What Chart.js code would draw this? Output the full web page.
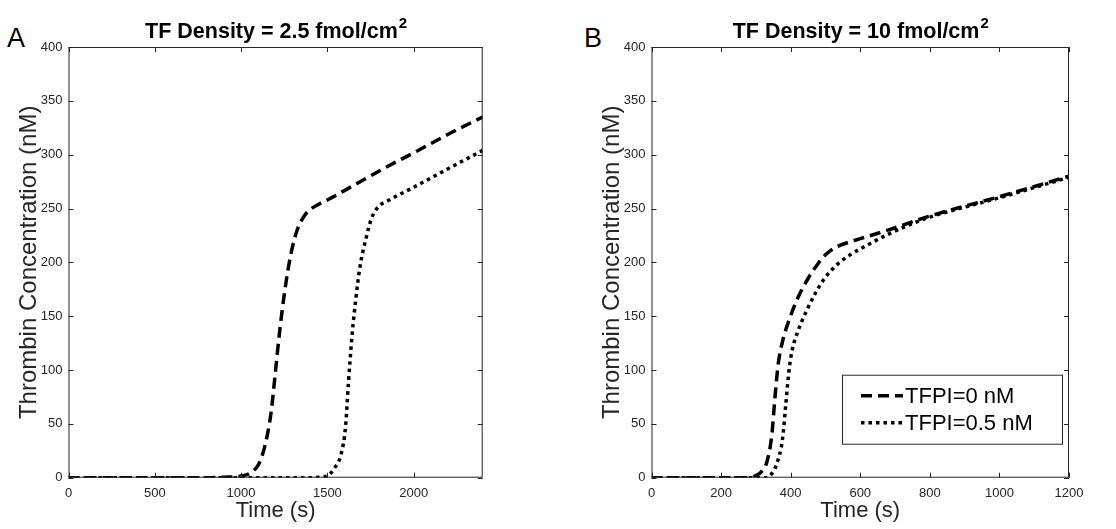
<!DOCTYPE html>
<html>
<head>
<meta charset="utf-8">
<script src="https://cdn.jsdelivr.net/npm/chart.js@4.4.1/dist/chart.umd.min.js"></script>
<style>
  html, body { margin: 0; padding: 0; background: #fff; }
  body { width: 1116px; height: 529px; position: relative; overflow: hidden; font-family: "Liberation Sans", Arial, sans-serif; }
  .panel { position: absolute; top: 0; height: 529px; }
  #wrapA { left: 0; width: 560px; }
  #wrapB { left: 583px; width: 533px; }
  .letter { position: absolute; font-size: 27px; color: #000; line-height: 1; }
</style>
</head>
<body>
<div class="letter" style="left:7px; top:25px;">A</div>
<div class="letter" style="left:584px; top:25px;">B</div>
<div class="panel" id="wrapA"><canvas id="chartA"></canvas></div>
<div class="panel" id="wrapB"><canvas id="chartB"></canvas></div>

<script>
// ---- data (time in s, thrombin in nM) ----
const timeA0 = [0, 400, 800, 900, 1000, 1050, 1100, 1125, 1150, 1175, 1200, 1225, 1250, 1275, 1300, 1325, 1350, 1375, 1400, 1450, 1513, 1680, 1848, 2015, 2200, 2400];
const concA0 = [0, 0, 0, 0.5, 1.5, 4, 12, 22, 38, 62, 100, 138, 170, 196, 216, 230, 239, 245, 249, 254, 259, 274, 289, 303, 319, 335];
const timeA05 = [0, 400, 800, 1200, 1400, 1450, 1496, 1546, 1580, 1605, 1622, 1644, 1664, 1689, 1722, 1756, 1798, 1848, 2015, 2200, 2400];
const concA05 = [0, 0, 0, 0, 0, 0.5, 1.5, 10, 22, 47, 88, 134, 165, 196, 221, 241, 252, 257, 271, 287, 304];

const timeB0 = [0, 100, 200, 280, 300, 314, 332, 346, 355, 364, 377, 395, 422, 450, 477, 500, 530, 570, 600, 680, 800, 1000, 1200];
const concB0 = [0, 0, 0, 0, 2, 5, 15, 40, 75, 105, 127, 146, 168, 185, 198, 207, 214, 219, 222, 230, 243, 261, 280];
const timeB05 = [0, 100, 200, 300, 330, 341, 359, 377, 386, 395, 404, 422, 450, 472, 495, 530, 571, 620, 680, 750, 800, 1000, 1200];
const concB05 = [0, 0, 0, 0, 0, 2, 12, 37, 68, 99, 118, 137, 158, 172, 184, 197, 207, 216, 226, 236, 242, 260, 279];

const seriesLabels = ['TFPI=0 nM', 'TFPI=0.5 nM'];
const yTicks = [0, 50, 100, 150, 200, 250, 300, 350, 400];
const xTicksA = [0, 500, 1000, 1500, 2000];
const xTicksB = [0, 200, 400, 600, 800, 1000, 1200];

const FONT = '"Liberation Sans", Arial, sans-serif';
const AXIS_COLOR = '#262626';

function toPoints(xs, ys) {
    return xs.map((x, i) => ({ x: x, y: ys[i] }));
}

// box around the axes with inward ticks on all four sides
const boxPlugin = {
    id: 'boxTicks',
    afterDraw(chart) {
        const ctx = chart.ctx;
        const { left, right, top, bottom } = chart.chartArea;
        const xs = chart.scales.x, ys = chart.scales.y;
        const len = 5;
        ctx.save();
        ctx.strokeStyle = AXIS_COLOR;
        ctx.lineWidth = 1;
        ctx.strokeRect(left + 0.5, top + 0.5, right - left - 1, bottom - top - 1);
        ctx.beginPath();
        xs.ticks.forEach(t => {
            const px = Math.round(xs.getPixelForValue(t.value)) + 0.5;
            ctx.moveTo(px, bottom); ctx.lineTo(px, bottom - len);
            ctx.moveTo(px, top); ctx.lineTo(px, top + len);
        });
        ys.ticks.forEach(t => {
            const py = Math.round(ys.getPixelForValue(t.value)) + 0.5;
            ctx.moveTo(left, py); ctx.lineTo(left + len, py);
            ctx.moveTo(right, py); ctx.lineTo(right - len, py);
        });
        ctx.stroke();
        ctx.restore();
    }
};

// bold title with a raised "2"
const titlePlugin = {
    id: 'supTitle',
    afterDraw(chart, args, opts) {
        const ctx = chart.ctx;
        const { left, right } = chart.chartArea;
        ctx.save();
        ctx.fillStyle = '#000';
        ctx.textBaseline = 'alphabetic';
        ctx.font = 'bold 21.5px ' + FONT;
        const main = opts.text;
        const w1 = ctx.measureText(main).width;
        ctx.font = 'bold 15px ' + FONT;
        const w2 = ctx.measureText('2').width;
        const x0 = (left + right) / 2 - (w1 + w2) / 2;
        ctx.font = 'bold 21.5px ' + FONT;
        ctx.textAlign = 'left';
        ctx.fillText(main, x0, 38);
        ctx.font = 'bold 15px ' + FONT;
        ctx.fillText('2', x0 + w1 + 1, 28);
        ctx.restore();
    }
};

// legend drawn inside the plot area, lower right
const boxLegend = {
    id: 'boxLegend',
    afterDraw(chart, args, opts) {
        if (!opts.show) return;
        const ctx = chart.ctx;
        const { right, bottom } = chart.chartArea;
        const w = 221, h = 70;
        const bx = right - 6 - w, by = bottom - 33 - h;
        ctx.save();
        ctx.fillStyle = '#fff';
        ctx.fillRect(bx, by, w, h);
        ctx.strokeStyle = AXIS_COLOR;
        ctx.lineWidth = 1;
        ctx.strokeRect(bx + 0.5, by + 0.5, w - 1, h - 1);
        ctx.font = '22px ' + FONT;
        ctx.textBaseline = 'middle';
        ctx.fillStyle = '#000';
        chart.data.datasets.forEach((ds, i) => {
            const cy = by + 21 + i * 27;
            ctx.beginPath();
            ctx.setLineDash(ds.borderDash);
            ctx.lineWidth = ds.borderWidth;
            ctx.strokeStyle = ds.borderColor;
            ctx.moveTo(bx + 19, cy);
            ctx.lineTo(bx + 61, cy);
            ctx.stroke();
            ctx.setLineDash([]);
            ctx.fillText(ds.label, bx + 63, cy + 1);
        });
        ctx.restore();
    }
};

function makeChart(canvasId, title, d0, d05, xMax, xTicks, padRight, showLegend) {
    const canvas = document.getElementById(canvasId);
    return new Chart(canvas.getContext('2d'), {
        type: 'line',
        data: {
            datasets: [{
                label: seriesLabels[0],
                data: d0,
                borderColor: '#000',
                borderWidth: 3.5,
                borderDash: [11, 6],
                borderCapStyle: 'butt',
                pointRadius: 0,
                cubicInterpolationMode: 'monotone'
            }, {
                label: seriesLabels[1],
                data: d05,
                borderColor: '#000',
                borderWidth: 3.5,
                borderDash: [3.5, 4],
                borderCapStyle: 'butt',
                pointRadius: 0,
                cubicInterpolationMode: 'monotone'
            }]
        },
        options: {
            responsive: true,
            maintainAspectRatio: false,
            animation: false,
            layout: { padding: { top: 47, right: padRight, left: 0, bottom: 0 } },
            plugins: {
                legend: { display: false },
                tooltip: { enabled: false },
                supTitle: { text: title },
                boxLegend: { show: showLegend }
            },
            scales: {
                x: {
                    type: 'linear',
                    min: 0,
                    max: xMax,
                    afterBuildTicks: (s) => { s.ticks = xTicks.map(v => ({ value: v })); },
                    ticks: { padding: 8, color: AXIS_COLOR, font: { family: FONT, size: 13 }, maxRotation: 0, autoSkip: false, callback: (v) => String(v) },
                    grid: { display: false, drawTicks: false },
                    border: { display: false },
                    title: { display: true, text: 'Time (s)', color: AXIS_COLOR, font: { family: FONT, size: 22 }, padding: { top: 0, bottom: 5 } },
                    afterFit: (s) => { s.height = 51.3; }
                },
                y: {
                    min: 0,
                    max: 400,
                    afterBuildTicks: (s) => { s.ticks = yTicks.map(v => ({ value: v })); },
                    ticks: { padding: 6, color: AXIS_COLOR, font: { family: FONT, size: 13 }, autoSkip: false, callback: (v) => String(v) },
                    grid: { display: false, drawTicks: false },
                    border: { display: false },
                    title: { display: true, text: 'Thrombin Concentration (nM)', color: AXIS_COLOR, font: { family: FONT, size: 24 }, padding: { top: 15, bottom: 0 } },
                    afterFit: (s) => { s.width = 68.5; }
                }
            }
        },
        plugins: [boxPlugin, titlePlugin, boxLegend]
    });
}

makeChart('chartA', 'TF Density = 2.5 fmol/cm', toPoints(timeA0, concA0), toPoints(timeA05, concA05), 2400, xTicksA, 77.3, false);
makeChart('chartB', 'TF Density = 10 fmol/cm', toPoints(timeB0, concB0), toPoints(timeB05, concB05), 1200, xTicksB, 47, true);
</script>
</body>
</html>
